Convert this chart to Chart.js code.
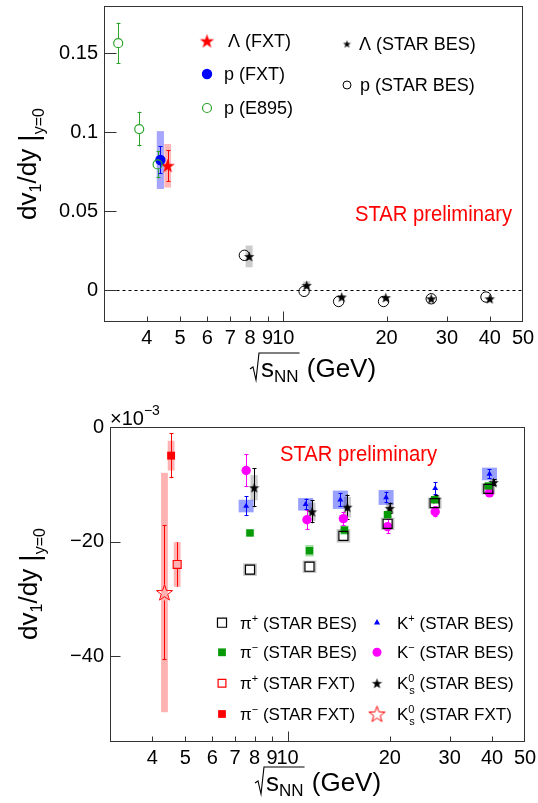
<!DOCTYPE html>
<html>
<head>
<meta charset="utf-8">
<script src="https://cdn.jsdelivr.net/npm/chart.js@4.4.0/dist/chart.umd.min.js"></script>
<style>
  html, body { margin: 0; padding: 0; background: #fff; }
  #wrap { position: relative; width: 538px; height: 803px; }
  #top { position: absolute; left: 0; top: 0; }
  #bot { position: absolute; left: 0; top: 400px; }
</style>
</head>
<body>
<div id="wrap">
  <canvas id="top" width="538" height="400"></canvas>
  <canvas id="bot" width="538" height="403"></canvas>
</div>
<script>
const FONT = '"Liberation Sans", Arial, Helvetica, sans-serif';

// ---- axes ----
const xTickVals = [4, 5, 6, 7, 8, 9, 10, 20, 30, 40, 50];
const topYTickVals = [0, 0.05, 0.1, 0.15];
const botYTickVals = [-40, -20, 0];

// ---- top panel: proton / lambda ----
const e895X = [3.3, 3.8, 4.3];
const e895Y = [0.1565, 0.1021, 0.0797];
const e895Stat = [0.013, 0.011, 0.0087];

const pFxtX = [4.38];
const pFxtY = [0.0825];
const pFxtStat = [0.0088];
const pFxtSys = [0.0183];

const lamFxtX = [4.6];
const lamFxtY = [0.0789];
const lamFxtStat = [0.0100];
const lamFxtSys = [0.0138];

const pBesX = [7.7, 11.5, 14.5, 19.6, 27, 39];
const pBesY = [0.0222, -0.0006, -0.0070, -0.0070, -0.0053, -0.0042];

const lamBesX = [7.95, 11.7, 14.8, 19.9, 27, 40];
const lamBesY = [0.0215, 0.0032, -0.0042, -0.0046, -0.0053, -0.0053];
const lamBesStat = [0.0030, 0.0015, 0.0010, 0.0008, 0.0006, 0.0006];
const lamBesSys = [0.0069, 0.0025, 0.0012, 0.0010, 0.0008, 0.0008];

// ---- bottom panel: pions / kaons (x 10^-3) ----
const pipBesX = [7.75, 11.6, 14.6, 19.7, 27.1, 39.0];
const pipBesY = [-24.9, -24.4, -19.0, -16.9, -13.3, -10.8];
const pipBesSys = [0.9, 0.9, 1.0, 0.9, 0.8, 0.8];

const pimBesX = [7.75, 11.6, 14.7, 19.7, 27.1, 39.0];
const pimBesY = [-18.5, -21.6, -18.0, -15.3, -12.7, -10.3];
const pimBesSys = [0.6, 1.0, 0.8, 0.6, 0.6, 0.5];

const kpBesX = [7.55, 11.3, 14.3, 19.5, 27.2, 39.3];
const kpBesY = [-13.8, -13.5, -12.7, -12.3, -10.7, -8.2];
const kpBesStat = [1.7, 1.0, 1.2, 1.0, 1.1, 0.8];
const kpBesSys = [1.1, 1.1, 1.6, 1.3, 0, 1.1];

const kmBesX = [7.55, 11.4, 14.6, 19.7, 27.2, 39.3];
const kmBesY = [-7.6, -16.2, -16.0, -17.4, -14.8, -11.5];
const kmBesStat = [2.9, 1.7, 1.2, 1.3, 1.0, 0.7];

const k0BesX = [7.97, 11.8, 15.0, 20.0, 27.4, 40.4];
const k0BesY = [-10.6, -14.8, -14.0, -14.2, -12.6, -9.7];
const k0BesStat = [3.4, 2.0, 2.2, 1.0, 0.7, 0.6];
const k0BesSys = [2.2, 1.6, 1.8, 1.0, 0.7, 0.6];

const pipFxtX = [4.73];
const pipFxtY = [-24.0];
const pipFxtStat = [3.9];
const pipFxtSys = [3.9];

const pimFxtX = [4.54];
const pimFxtY = [-5.0];
const pimFxtStat = [3.95];
const pimFxtSys = [2.6];

const k0FxtX = [4.34];
const k0FxtY = [-28.9];
const k0FxtStat = [11.8];
const k0FxtSys = [20.9];

// ---- colours ----
const RED = '#ff0000', BLUE = '#0000ff', MAG = '#ff00ff';
const GREEN_E895 = '#2ca42c', GREEN = '#079a07';

// five point star marker as a small canvas
function starImage(r, fill, stroke, lw) {
  const s = Math.ceil(2 * r + 4);
  const c = document.createElement('canvas');
  c.width = s; c.height = s;
  const g = c.getContext('2d');
  g.translate(s / 2, s / 2 + r * 0.08);
  g.beginPath();
  for (let i = 0; i < 10; i++) {
    const rr = i % 2 ? r * 0.4 : r;
    const a = -Math.PI / 2 + i * Math.PI / 5;
    g.lineTo(rr * Math.cos(a), rr * Math.sin(a));
  }
  g.closePath();
  if (fill) { g.fillStyle = fill; g.fill(); }
  if (stroke) { g.strokeStyle = stroke; g.lineWidth = lw; g.stroke(); }
  return c;
}

const starRedBig = starImage(7.5, RED);
const starBlack = starImage(5.5, '#000');
const starBlackSmall = starImage(4.2, '#000');
const starRedOpen = starImage(8.5, null, RED, 1);

function series(xs, ys, opt) {
  return Object.assign({ data: xs.map((x, i) => ({ x: x, y: ys[i] })), pointHoverRadius: 0 }, opt);
}

// error bars and systematic boxes, drawn under the markers
const errorBars = {
  id: 'errorBars',
  beforeDatasetsDraw(chart) {
    const { ctx, chartArea: a, scales: { x: xs, y: ys } } = chart;
    ctx.save();
    ctx.beginPath();
    ctx.rect(a.left, a.top, a.right - a.left, a.bottom - a.top);
    ctx.clip();
    chart.data.datasets.forEach(ds => {
      if (!ds.sys) return;
      ds.data.forEach((p, i) => {
        const s = ds.sys[i];
        if (!s) return;
        const px = xs.getPixelForValue(p.x);
        const t = ys.getPixelForValue(p.y + s), b = ys.getPixelForValue(p.y - s);
        const hw = ds.sysHalfW;
        if (ds.sysStroke) {
          ctx.strokeStyle = ds.sysColor; ctx.lineWidth = 2;
          ctx.strokeRect(px - hw, t, 2 * hw, b - t);
        } else {
          ctx.fillStyle = ds.sysColor;
          ctx.fillRect(px - hw, t, 2 * hw, b - t);
        }
      });
    });
    chart.data.datasets.forEach(ds => {
      if (!ds.stat) return;
      ctx.strokeStyle = ds.errColor; ctx.lineWidth = 1;
      ds.data.forEach((p, i) => {
        const e = ds.stat[i];
        const px = Math.round(xs.getPixelForValue(p.x)) + 0.5;
        const py = ys.getPixelForValue(p.y);
        const t = ys.getPixelForValue(p.y + e), b = ys.getPixelForValue(p.y - e);
        const g = ds.errGap || 0, c = ds.capW || 0;
        if (py - t <= g) return;
        ctx.beginPath();
        ctx.moveTo(px, t); ctx.lineTo(px, py - g);
        ctx.moveTo(px, py + g); ctx.lineTo(px, b);
        if (c) {
          ctx.moveTo(px - c, Math.round(t) + 0.5); ctx.lineTo(px + c, Math.round(t) + 0.5);
          ctx.moveTo(px - c, Math.round(b) - 0.5); ctx.lineTo(px + c, Math.round(b) - 0.5);
        }
        ctx.stroke();
      });
    });
    ctx.restore();
  }
};

function marker(ctx, style, x, y, r, fill, stroke, lw) {
  ctx.save();
  if (style instanceof HTMLCanvasElement) {
    ctx.drawImage(style, x - style.width / 2, y - style.height / 2);
    ctx.restore();
    return;
  }
  ctx.beginPath();
  if (style === 'circle') {
    ctx.arc(x, y, r, 0, Math.PI * 2);
  } else if (style === 'rect') {
    const h = r * Math.SQRT1_2;
    ctx.rect(x - h, y - h, 2 * h, 2 * h);
  } else if (style === 'triangle') {
    for (let k = 0; k < 3; k++) {
      const a = k * 2 * Math.PI / 3;
      ctx.lineTo(x + Math.sin(a) * r, y - Math.cos(a) * r);
    }
    ctx.closePath();
  }
  if (fill) { ctx.fillStyle = fill; ctx.fill(); }
  if (stroke) { ctx.strokeStyle = stroke; ctx.lineWidth = lw; ctx.stroke(); }
  ctx.restore();
}

// text made of pieces: [text, size, dy] or {sup, sub, size, supDy, subDy}
function rich(ctx, x, y, parts, draw) {
  let cx = x;
  parts.forEach(p => {
    if (Array.isArray(p)) {
      ctx.font = p[1] + 'px ' + FONT;
      if (draw) ctx.fillText(p[0], cx, y + (p[2] || 0));
      cx += ctx.measureText(p[0]).width;
    } else {
      ctx.font = p.size + 'px ' + FONT;
      if (draw) {
        ctx.fillText(p.sup, cx, y + p.supDy);
        ctx.fillText(p.sub, cx + 1, y + p.subDy);
      }
      cx += Math.max(ctx.measureText(p.sup).width, ctx.measureText(p.sub).width + 1);
    }
  });
  return cx - x;
}

function drawFrame(chart, yTickLen, dashedZero) {
  const { ctx, chartArea: a, scales: { x, y } } = chart;
  ctx.save();
  ctx.strokeStyle = '#333'; ctx.lineWidth = 1;
  const L = Math.round(a.left) + 0.5, R = Math.round(a.right) - 0.5;
  const T = Math.round(a.top) + 0.5, B = Math.round(a.bottom) - 0.5;
  if (dashedZero) {
    const z = Math.round(y.getPixelForValue(0)) + 0.5;
    ctx.save();
    ctx.setLineDash([3, 3]);
    ctx.strokeStyle = '#000';
    ctx.beginPath(); ctx.moveTo(L, z); ctx.lineTo(R, z); ctx.stroke();
    ctx.restore();
  }
  ctx.strokeRect(L, T, R - L, B - T);
  ctx.beginPath();
  x.ticks.forEach(t => {
    if (t.value >= 50) return;
    const px = Math.round(x.getPixelForValue(t.value)) + 0.5;
    const len = t.value === 10 ? 10 : 5;
    ctx.moveTo(px, B); ctx.lineTo(px, B - len);
  });
  y.ticks.forEach(t => {
    const py = Math.round(y.getPixelForValue(t.value)) + 0.5;
    ctx.moveTo(L, py); ctx.lineTo(L + yTickLen, py);
  });
  ctx.stroke();
  ctx.restore();
}

function drawYTitle(ctx, baseX, cy) {
  const parts = [['dv', 26], ['1', 16, 5], ['/dy ', 26], ['|', 28, 2], ['y=0', 16, 8]];
  ctx.save();
  ctx.translate(baseX, cy);
  ctx.rotate(-Math.PI / 2);
  ctx.fillStyle = '#000';
  const w = rich(ctx, 0, 0, parts, false);
  rich(ctx, -w / 2, 0, parts, true);
  ctx.restore();
}

function drawXTitle(ctx, x0, base) {
  ctx.save();
  ctx.fillStyle = '#000'; ctx.strokeStyle = '#000'; ctx.lineWidth = 1.1;
  ctx.font = '26px ' + FONT;
  const sx = x0 + 11;
  ctx.fillText('s', sx, base);
  const sw = ctx.measureText('s').width;
  ctx.font = '17px ' + FONT;
  ctx.fillText('NN', sx + sw, base + 5);
  const end = sx + sw + ctx.measureText('NN').width + 1;
  ctx.beginPath();
  ctx.moveTo(x0, base - 8); ctx.lineTo(x0 + 3, base - 10);
  ctx.lineTo(x0 + 6, base + 3); ctx.lineTo(x0 + 9, base - 24);
  ctx.lineTo(end, base - 24);
  ctx.stroke();
  ctx.font = '26px ' + FONT;
  ctx.fillText(' (GeV)', end, base);
  ctx.restore();
}

function drawPrelim(ctx, x, cy) {
  ctx.save();
  ctx.font = '22px ' + FONT;
  const w = ctx.measureText('STAR preliminary').width;
  ctx.translate(x, cy);
  ctx.scale(157 / w, 1);
  ctx.fillStyle = RED;
  ctx.textBaseline = 'middle';
  ctx.fillText('STAR preliminary', 0, 0);
  ctx.restore();
}

const topDeco = {
  id: 'topDeco',
  afterDraw(chart) {
    const ctx = chart.ctx;
    drawFrame(chart, 12, true);
    drawYTitle(ctx, 36, 164);
    drawXTitle(ctx, 250, 377);
    drawPrelim(ctx, 355, 215);
    marker(ctx, starRedBig, 207, 41);
    marker(ctx, 'circle', 207, 74, 5.2, BLUE);
    marker(ctx, 'circle', 207, 108, 4.5, null, GREEN_E895, 1.2);
    marker(ctx, starBlackSmall, 347, 44);
    marker(ctx, 'circle', 347, 85, 4, null, '#000', 1);
    ctx.save();
    ctx.fillStyle = '#000';
    ctx.textBaseline = 'middle';
    ctx.font = '18px ' + FONT;
    ctx.fillText('\u039B (FXT)', 228, 42);
    ctx.fillText('p (FXT)', 224, 75);
    ctx.fillText('p (E895)', 224, 109);
    ctx.fillText('\u039B (STAR BES)', 359, 45);
    ctx.fillText('p (STAR BES)', 360, 86);
    ctx.restore();
  }
};

const botDeco = {
  id: 'botDeco',
  afterDraw(chart) {
    const ctx = chart.ctx;
    drawFrame(chart, 10, false);
    drawYTitle(ctx, 37, 184);
    drawXTitle(ctx, 255, 391);
    drawPrelim(ctx, 280, 55);
    const rows = [222.7, 252.3, 283.3, 314];
    const L = 240, R = 397, ML = 222, MR = 377;
    marker(ctx, 'rect', ML, rows[0], 6.4, null, '#000', 1.2);
    marker(ctx, 'rect', ML, rows[1], 5.5, GREEN);
    marker(ctx, 'rect', ML, rows[2], 5.5, null, RED, 1.2);
    marker(ctx, 'rect', ML, rows[3], 5.5, RED);
    marker(ctx, 'triangle', MR, rows[0], 3.6, BLUE);
    marker(ctx, 'circle', MR, rows[1], 4.5, MAG);
    marker(ctx, starBlack, MR, rows[2]);
    marker(ctx, starRedOpen, MR, rows[3]);
    ctx.save();
    ctx.fillStyle = '#000';
    rich(ctx, 110, 25, [['\u00D710', 20], ['\u22123', 14, -10]], true);
    const sup = (s) => [s, 11, -7];
    const tail = (t) => [' (STAR ' + t + ')', 17];
    const k0 = { sup: '0', sub: 's', size: 11, supDy: -7, subDy: 5 };
    rich(ctx, L, rows[0] + 6, [['\u03C0', 17], sup('+'), tail('BES')], true);
    rich(ctx, L, rows[1] + 6, [['\u03C0', 17], sup('\u2212'), tail('BES')], true);
    rich(ctx, L, rows[2] + 6, [['\u03C0', 17], sup('+'), tail('FXT')], true);
    rich(ctx, L, rows[3] + 6, [['\u03C0', 17], sup('\u2212'), tail('FXT')], true);
    rich(ctx, R, rows[0] + 6, [['K', 17], sup('+'), tail('BES')], true);
    rich(ctx, R, rows[1] + 6, [['K', 17], sup('\u2212'), tail('BES')], true);
    rich(ctx, R, rows[2] + 6, [['K', 17], k0, tail('BES')], true);
    rich(ctx, R, rows[3] + 6, [['K', 17], k0, tail('FXT')], true);
    ctx.restore();
  }
};

function axes(yMin, yMax, yTicks, yWidth, xHeight, yLabel) {
  return {
    x: {
      type: 'logarithmic', min: 3, max: 50,
      afterBuildTicks: s => { s.ticks = xTickVals.map(v => ({ value: v })); },
      afterFit: s => { s.height = xHeight; s.paddingLeft = 0; s.paddingRight = 0; },
      grid: { display: false, drawTicks: false },
      border: { display: false },
      ticks: {
        autoSkip: false, maxRotation: 0, minRotation: 0, padding: 4,
        color: '#000', font: { family: FONT, size: 20 },
        callback: v => String(v)
      }
    },
    y: {
      type: 'linear', min: yMin, max: yMax,
      afterBuildTicks: s => { s.ticks = yTicks.map(v => ({ value: v })); },
      afterFit: s => { s.width = yWidth; s.paddingTop = 0; s.paddingBottom = 0; },
      grid: { display: false, drawTicks: false },
      border: { display: false },
      ticks: {
        padding: 6, color: '#000', font: { family: FONT, size: 20 },
        callback: yLabel
      }
    }
  };
}

const common = {
  responsive: false, animation: false, devicePixelRatio: 1,
  events: [],
  plugins: { legend: { display: false }, tooltip: { enabled: false } }
};

new Chart(document.getElementById('top'), {
  type: 'scatter',
  data: {
    datasets: [
      series(e895X, e895Y, {
        pointStyle: 'circle', pointRadius: 4.5, pointBorderWidth: 1.2,
        pointBackgroundColor: 'rgba(0,0,0,0)', pointBorderColor: GREEN_E895,
        stat: e895Stat, errColor: GREEN_E895, errGap: 5, capW: 2
      }),
      series(pBesX, pBesY, {
        pointStyle: 'circle', pointRadius: 5.2, pointBorderWidth: 1,
        pointBackgroundColor: 'rgba(0,0,0,0)', pointBorderColor: '#000'
      }),
      series(lamBesX, lamBesY, {
        pointStyle: starBlack, pointRadius: 5.5,
        stat: lamBesStat, errColor: '#000', errGap: 5, capW: 2,
        sys: lamBesSys, sysColor: 'rgba(0,0,0,0.2)', sysHalfW: 3.5
      }),
      series(pFxtX, pFxtY, {
        pointStyle: 'circle', pointRadius: 5.2, pointBorderWidth: 0,
        pointBackgroundColor: BLUE, pointBorderColor: BLUE,
        stat: pFxtStat, errColor: BLUE, errGap: 0, capW: 2,
        sys: pFxtSys, sysColor: 'rgba(0,0,255,0.35)', sysHalfW: 3.6
      }),
      series(lamFxtX, lamFxtY, {
        pointStyle: starRedBig, pointRadius: 7.5,
        stat: lamFxtStat, errColor: RED, errGap: 0, capW: 2,
        sys: lamFxtSys, sysColor: 'rgba(255,0,0,0.28)', sysHalfW: 3.4
      })
    ]
  },
  options: Object.assign({}, common, {
    layout: { padding: { left: 0, right: 15, top: 6, bottom: 0 }, autoPadding: false },
    scales: axes(-0.02, 0.18, topYTickVals, 104, 78, v => String(v))
  }),
  plugins: [errorBars, topDeco]
});

new Chart(document.getElementById('bot'), {
  type: 'scatter',
  data: {
    datasets: [
      series(pipBesX, pipBesY, {
        pointStyle: 'rect', pointRadius: 6.4, pointBorderWidth: 1.2,
        pointBackgroundColor: 'rgba(0,0,0,0)', pointBorderColor: '#000',
        sys: pipBesSys, sysColor: 'rgba(0,0,0,0.25)', sysHalfW: 5.8, sysStroke: true
      }),
      series(pimBesX, pimBesY, {
        pointStyle: 'rect', pointRadius: 5.2, pointBorderWidth: 0,
        pointBackgroundColor: GREEN, pointBorderColor: GREEN,
        sys: pimBesSys, sysColor: 'rgba(0,160,0,0.35)', sysHalfW: 4.2
      }),
      series(kmBesX, kmBesY, {
        pointStyle: 'circle', pointRadius: 4.7, pointBorderWidth: 0,
        pointBackgroundColor: MAG, pointBorderColor: MAG,
        stat: kmBesStat, errColor: MAG, errGap: 0, capW: 2
      }),
      series(kpBesX, kpBesY, {
        pointStyle: 'triangle', pointRadius: 3.4, pointBorderWidth: 0,
        pointBackgroundColor: BLUE, pointBorderColor: BLUE,
        stat: kpBesStat, errColor: BLUE, errGap: 0, capW: 2,
        sys: kpBesSys, sysColor: 'rgba(0,20,255,0.4)', sysHalfW: 7.5
      }),
      series(k0BesX, k0BesY, {
        pointStyle: starBlack, pointRadius: 5.5,
        stat: k0BesStat, errColor: '#000', errGap: 0, capW: 2,
        sys: k0BesSys, sysColor: 'rgba(0,0,0,0.2)', sysHalfW: 3.6
      }),
      series(pipFxtX, pipFxtY, {
        pointStyle: 'rect', pointRadius: 5.6, pointBorderWidth: 1.2,
        pointBackgroundColor: 'rgba(255,255,255,0)', pointBorderColor: RED,
        stat: pipFxtStat, errColor: RED, errGap: 4, capW: 0,
        sys: pipFxtSys, sysColor: 'rgba(255,0,0,0.3)', sysHalfW: 3.4
      }),
      series(pimFxtX, pimFxtY, {
        pointStyle: 'rect', pointRadius: 5.6, pointBorderWidth: 0,
        pointBackgroundColor: RED, pointBorderColor: RED,
        stat: pimFxtStat, errColor: RED, errGap: 0, capW: 2,
        sys: pimFxtSys, sysColor: 'rgba(255,0,0,0.3)', sysHalfW: 3.4
      }),
      series(k0FxtX, k0FxtY, {
        pointStyle: starRedOpen, pointRadius: 8.5,
        stat: k0FxtStat, errColor: RED, errGap: 8, capW: 2,
        sys: k0FxtSys, sysColor: 'rgba(255,0,0,0.3)', sysHalfW: 3.4
      })
    ]
  },
  options: Object.assign({}, common, {
    layout: { padding: { left: 0, right: 13, top: 27, bottom: 0 }, autoPadding: false },
    scales: axes(-55, 0, botYTickVals, 110, 61, v => (v < 0 ? '\u2212' + (-v) : '0'))
  }),
  plugins: [errorBars, botDeco]
});
</script>
</body>
</html>
